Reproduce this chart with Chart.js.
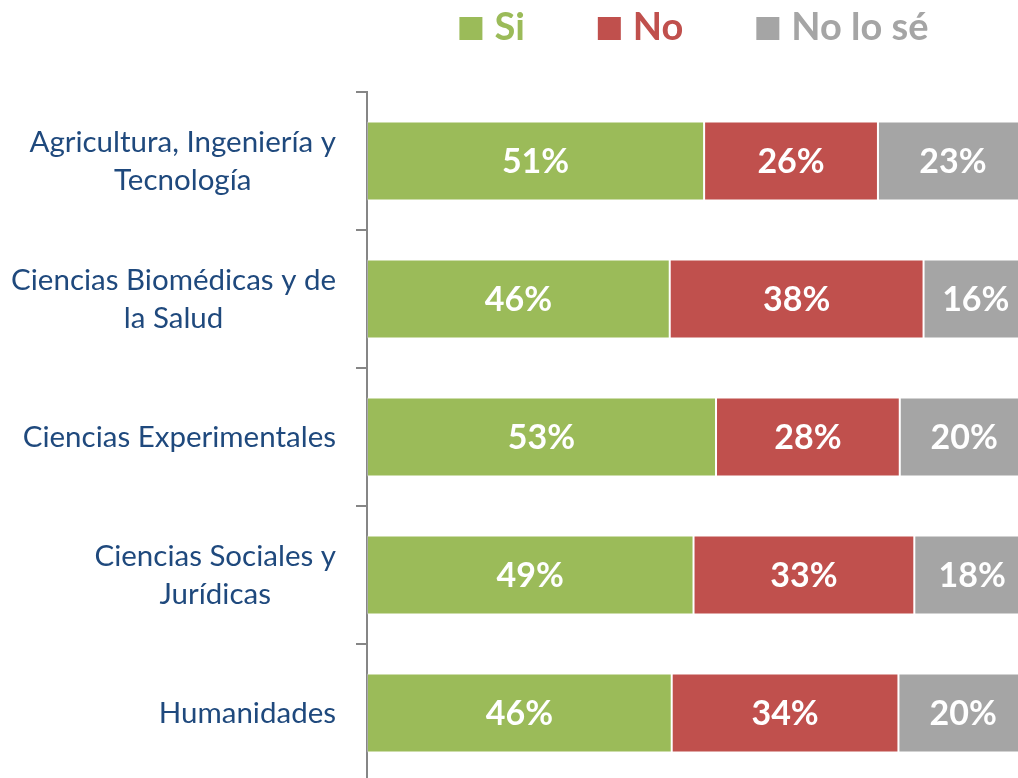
<!DOCTYPE html>
<html>
<head>
<meta charset="utf-8">
<script src="https://cdn.jsdelivr.net/npm/chart.js@4.4.1/dist/chart.umd.min.js"></script>
<style>
  html, body { margin: 0; padding: 0; background: #fff; overflow: hidden; }
  #wrap { width: 1018px; height: 778px; overflow: hidden; }
</style>
</head>
<body>
<div id="wrap"><canvas id="chart1" width="1028" height="782"></canvas></div>
<script>
const categorias = [
  ["Agricultura, Ingeniería y", "Tecnología"],
  ["Ciencias Biomédicas y de", "la Salud"],
  ["Ciencias Experimentales"],
  ["Ciencias Sociales y", "Jurídicas"],
  ["Humanidades"],
];
const si = [51.0, 45.8, 52.8, 49.4, 46.1];
const no = [26.3, 38.4, 27.8, 33.4, 34.3];
const noLoSe = [22.7, 15.8, 19.5, 17.5, 19.6];

const FONT = "Lato, 'Open Sans', sans-serif";

// porcentajes blancos dentro de cada segmento
const etiquetas = {
  id: "etiquetas",
  afterDatasetsDraw(chart) {
    const ctx = chart.ctx;
    ctx.save();
    ctx.font = "bold 34px " + FONT;
    ctx.fillStyle = "#ffffff";
    ctx.textAlign = "center";
    ctx.textBaseline = "middle";
    chart.data.datasets.forEach((ds, i) => {
      chart.getDatasetMeta(i).data.forEach((bar, j) => {
        const x = (bar.x + bar.base) / 2;
        ctx.fillText(Math.round(ds.data[j]) + "%", x, bar.y + 1);
      });
    });
    ctx.restore();
  },
};

// nombres de las categorias (bloque alineado a la derecha, lineas centradas)
const nombres = {
  id: "nombres",
  afterDraw(chart) {
    const ctx = chart.ctx;
    const sc = chart.scales.y;
    ctx.save();
    ctx.font = "29.5px " + FONT;
    ctx.fillStyle = "#1F497D";
    ctx.textAlign = "center";
    ctx.textBaseline = "middle";
    categorias.forEach((lineas, i) => {
      const yc = sc.getPixelForValue(i);
      const ancho = Math.max(...lineas.map((l) => ctx.measureText(l).width));
      const cx = chart.chartArea.left - 31 - ancho / 2;
      lineas.forEach((l, k) => {
        ctx.fillText(l, cx, yc + (k - (lineas.length - 1) / 2) * 38);
      });
    });
    ctx.restore();
  },
};

// leyenda de arriba
const leyenda = {
  id: "leyenda",
  afterDraw(chart) {
    const ctx = chart.ctx;
    ctx.save();
    ctx.font = "bold 38px " + FONT;
    ctx.textBaseline = "alphabetic";
    const items = chart.data.datasets.map((ds) => ({
      label: ds.label,
      color: ds.backgroundColor,
      w: 23 + 12 + ctx.measureText(ds.label).width,
    }));
    const total = items.reduce((s, it) => s + it.w, 0) + 73 * (items.length - 1);
    let x = 694 - total / 2;
    items.forEach((it) => {
      ctx.fillStyle = it.color;
      ctx.fillRect(x, 17, 23, 23);
      ctx.fillText(it.label, x + 35, 40);
      x += it.w + 73;
    });
    ctx.restore();
  },
};

const ctx = document.getElementById("chart1");
const chart = new Chart(ctx, {
  type: "bar",
  data: {
    labels: categorias.map((c) => c.join(" ")),
    datasets: [
      { label: "Si", data: si, backgroundColor: "#9BBB59" },
      { label: "No", data: no, backgroundColor: "#C0504D" },
      { label: "No lo sé", data: noLoSe, backgroundColor: "#A5A5A5" },
    ].map((d) => Object.assign(d, {
      borderColor: "rgba(255,255,255,0.3)",
      borderWidth: 1,
      borderSkipped: false,
      categoryPercentage: 1,
      barPercentage: 0.573,
    })),
  },
  options: {
    indexAxis: "y",
    responsive: false,
    animation: false,
    layout: { padding: { top: 92, left: 0, right: 0, bottom: 0 } },
    scales: {
      x: { stacked: true, display: false, min: 0, max: 100 },
      y: {
        stacked: true,
        afterFit: (s) => { s.width = 367; },
        ticks: { display: false },
        grid: {
          offset: true,
          drawOnChartArea: false,
          drawTicks: true,
          tickLength: 11,
          color: "#868686",
          lineWidth: 2,
        },
        border: { display: true, color: "#868686", width: 2 },
      },
    },
    plugins: {
      legend: { display: false },
      tooltip: { enabled: false },
    },
  },
  plugins: [etiquetas, nombres, leyenda],
});
</script>
</body>
</html>
